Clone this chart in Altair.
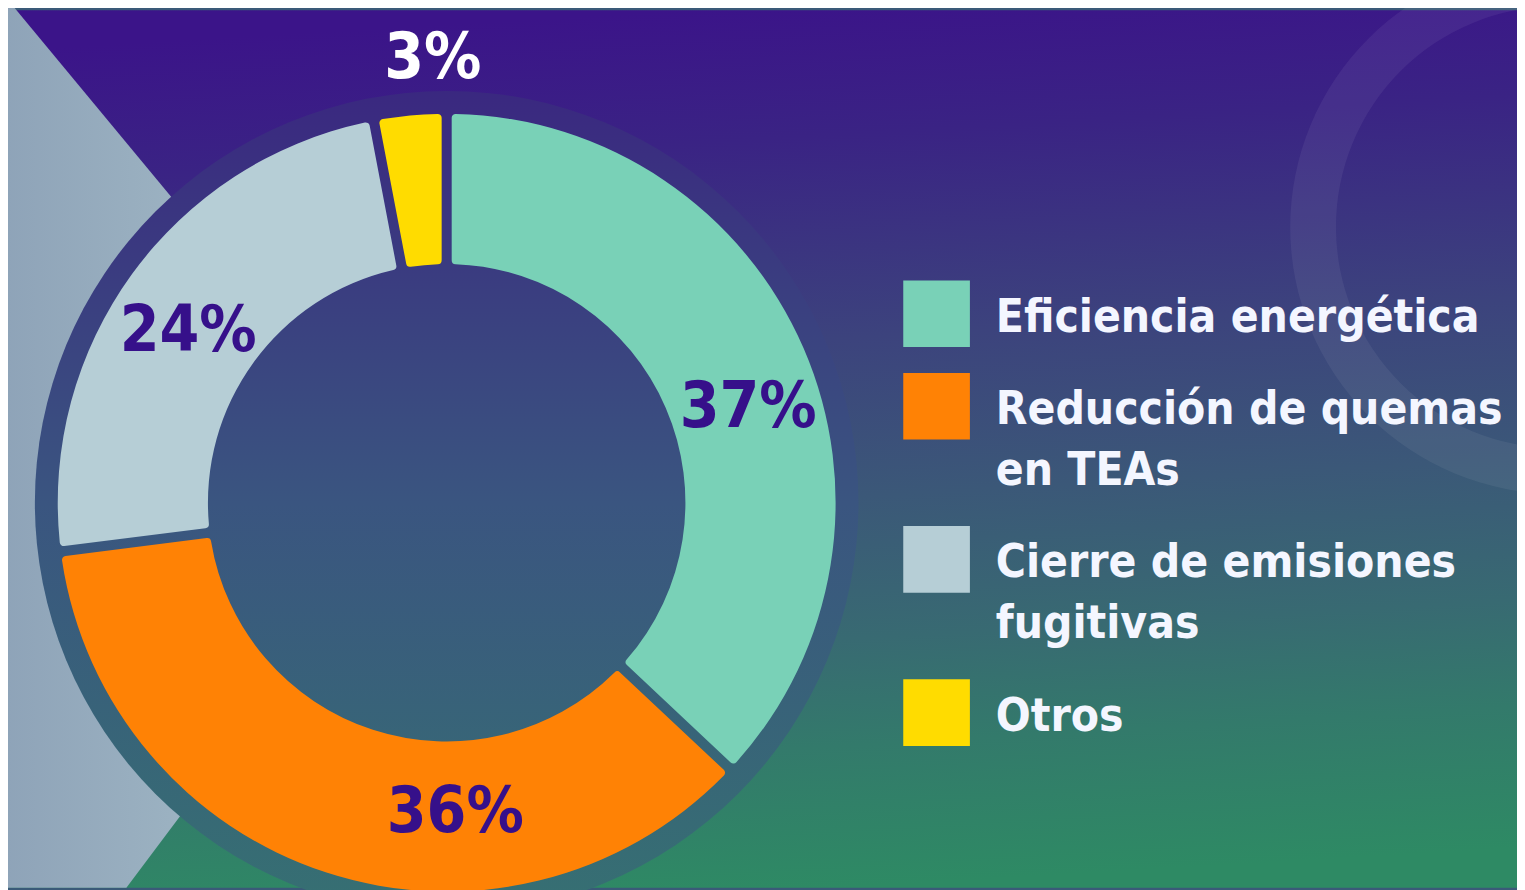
import altair as alt
import pandas as pd

# ---- data ----
categories = ["Eficiencia energética", "Reducción de quemas en TEAs",
              "Cierre de emisiones fugitivas", "Otros"]
values = [37, 36, 24, 3]
colors = ["#79d1b7", "#ff8205", "#b6ced6", "#ffdc00"]
legend_labels = ["Eficiencia energética", "Reducción de quemas|en TEAs",
                 "Cierre de emisiones|fugitivas", "Otros"]
percent_labels = ["37%", "36%", "24%", "3%"]

# decorative chevron outline (screen pixels)
chevron_y = [0, 497, 890]
chevron_x = [10, 422, 127]

# ---- layout constants ----
M = 8
W, H = 1517, 882
CX, CY = 449, 503          # donut centre (screen px)
R_OUT, R_IN = 391, 240
FONT = "DejaVu Sans Condensed, Roboto, sans-serif"

X = alt.Scale(domain=[M, M + W], nice=False, zero=False)
Y = alt.Scale(domain=[M, M + H], nice=False, zero=False, reverse=True)

df = pd.DataFrame({"cat": categories, "value": values, "idx": range(len(values)),
                   "pct": percent_labels})

one = pd.DataFrame({"a": [0]})

bg = alt.Chart(one).mark_rect(fill={
    "gradient": "linear", "x1": 0.45, "y1": 0, "x2": 0.55, "y2": 1,
    "stops": [
        {"offset": 0.0, "color": "#3b1489"},
        {"offset": 0.15, "color": "#3a2384"},
        {"offset": 0.38, "color": "#3c437d"},
        {"offset": 0.56, "color": "#3b5878"},
        {"offset": 0.72, "color": "#386a72"},
        {"offset": 0.84, "color": "#337a6b"},
        {"offset": 1.0, "color": "#2e8a64"},
    ]}).encode(x=alt.value(0), x2=alt.value(W), y=alt.value(0), y2=alt.value(H))

ring = alt.Chart(one).mark_arc(
    radius=268, radius2=222, theta=0, theta2=6.2832, fill="white", opacity=0.06
).encode(x=alt.value(1565 - M), y=alt.value(226 - M))

chev = alt.Chart(pd.DataFrame({"py": chevron_y, "px": chevron_x})).mark_area(
    orient="horizontal",
    fill={"gradient": "linear", "x1": 0, "y1": 0, "x2": 1, "y2": 0,
          "stops": [{"offset": 0, "color": "#8ea3b8"},
                    {"offset": 1, "color": "#aec6ce"}]}
).encode(
    y=alt.Y("py:Q", scale=Y, axis=None),
    x=alt.X("px:Q", scale=X, axis=None),
    x2=alt.value(0),
)

disc = alt.Chart(one).mark_arc(
    radius=414, radius2=0, theta=0, theta2=6.2832,
    fill={"gradient": "linear", "x1": 0, "y1": 0, "x2": 0, "y2": 1,
          "stops": [{"offset": 0, "color": "#3a2880"},
                    {"offset": 0.5, "color": "#3a5580"},
                    {"offset": 1, "color": "#367072"}]}
).encode(x=alt.value(CX - M), y=alt.value(CY - M))

donut = alt.Chart(df).mark_arc(
    radius=R_OUT, radius2=R_IN, padAngle=0.022, cornerRadius=4
).encode(
    theta=alt.Theta("value:Q", stack=True),
    color=alt.Color("cat:N", scale=alt.Scale(domain=categories, range=colors), legend=None),
    order=alt.Order("idx:Q"),
    x=alt.value(CX - M), y=alt.value(CY - M),
)

# percentage labels: placed at slice mid-angle, with small style offsets
label_style = {
    "37%": dict(r=315, dx=14, dy=30, color="#36108a"),
    "36%": dict(r=315, dx=106, dy=12, color="#36108a"),
    "24%": dict(r=315, dx=-5, dy=14, color="#36108a"),
    "3%": dict(r=446, dx=28, dy=-2, color="#ffffff"),
}
label_layers = []
for p, st in label_style.items():
    lay = alt.Chart(df).transform_joinaggregate(
        total="sum(value)"
    ).transform_window(
        cum="sum(value)", sort=[alt.SortField("idx")], frame=[None, 0]
    ).transform_calculate(
        mid="(datum.cum - datum.value/2)/datum.total*2*PI",
    ).transform_calculate(
        lx=f"{CX} + {st['r']}*sin(datum.mid)",
        ly=f"{CY} - {st['r']}*cos(datum.mid)",
    ).transform_filter(
        alt.datum.pct == p
    ).mark_text(
        font=FONT, fontWeight="bold", fontSize=64, color=st["color"],
        align="center", baseline="middle", dx=st["dx"], dy=st["dy"]
    ).encode(
        x=alt.X("lx:Q", scale=X, axis=None),
        y=alt.Y("ly:Q", scale=Y, axis=None),
        text="pct:N",
    )
    label_layers.append(lay)

# manual legend
rows = []
k = 0
for e, (cat, lab) in enumerate(zip(categories, legend_labels)):
    for j, line in enumerate(lab.split("|")):
        rows.append({"cat": cat, "line": line, "first": j == 0,
                     "ly": 317 + 61 * k + 32 * e})
        k += 1
leg = pd.DataFrame(rows)

leg_sq = alt.Chart(leg).transform_filter("datum.first").mark_square(
    size=67 * 67, opacity=1, strokeWidth=0, yOffset=-4
).encode(
    x=alt.value(941.5 - M),
    y=alt.Y("ly:Q", scale=Y, axis=None),
    color=alt.Color("cat:N", scale=alt.Scale(domain=categories, range=colors), legend=None),
)

leg_txt = alt.Chart(leg).mark_text(
    font=FONT, fontWeight="bold", fontSize=46, color="#f4f6ff",
    align="left", baseline="middle"
).encode(
    x=alt.value(1001 - M),
    y=alt.Y("ly:Q", scale=Y, axis=None),
    text="line:N",
)

chart = alt.layer(bg, ring, chev, disc, donut, *label_layers, leg_sq, leg_txt).properties(
    width=W, height=H, padding=0, autosize="none", background="#3a5a78"
).configure_view(stroke=None)

chart.save("out.html", embed_options={"renderer": "svg", "actions": False})
